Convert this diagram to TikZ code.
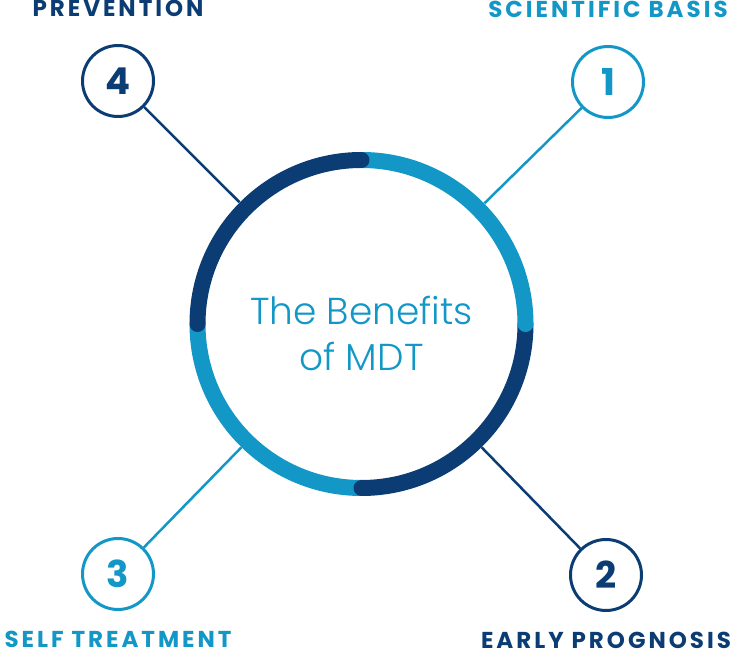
\documentclass[tikz,border=0pt]{standalone}
\usepackage{fontspec}
\usepackage{xcolor}
\usetikzlibrary{positioning}
\setmainfont{Poppins}
\newfontfamily\lightfont{Poppins Light}
\newfontfamily\labelfont{Poppins}[LetterSpace=13]
\definecolor{mdtdark}{HTML}{0B3D74}
\definecolor{mdtlight}{HTML}{1297C6}

\begin{document}
\begin{tikzpicture}[x=1pt,y=1pt,
  numcircle/.style={circle, draw, line width=3pt, minimum size=71pt, inner sep=0pt,
    font=\fontsize{37}{37}\selectfont\bfseries},
  benefit/.style={inner sep=0pt, font=\labelfont\fontsize{23}{23}\selectfont\bfseries},
  spoke/.style={line width=2.5pt},
  segment/.style={line width=16pt, line cap=round}]
\useasboundingbox (0,0) rectangle (732,654);

% Centre
\node[circle, minimum size=344pt, inner sep=0pt] (core) at (361.5,330) {};
\node[align=center, text=mdtlight, font=\lightfont\fontsize{37.5}{46}\selectfont]
  (title) at ([yshift=-9pt]core.center) {The Benefits\\of MDT};

% Numbers
\node[numcircle, draw=mdtlight, text=mdtlight] (n1) at (608,572) {1};
\node[numcircle, draw=mdtdark, text=mdtdark] (n2) at (606,79) {2};
\node[numcircle, draw=mdtlight, text=mdtlight] (n3) at (118,80) {3};
\node[numcircle, draw=mdtdark, text=mdtdark] (n4) at (118,573) {4};

% Labels
\node[benefit, text=mdtlight, above=27pt of n1, anchor=base] (l1) {SCIENTIFIC BASIS};
\node[benefit, text=mdtdark, below=37pt of n2, anchor=base] (l2) {EARLY PROGNOSIS};
\node[benefit, text=mdtlight, below=37pt of n3, anchor=base] (l3) {SELF TREATMENT};
\node[benefit, text=mdtdark, above=27pt of n4, anchor=base] (l4) {PREVENTION};

% Spokes
\draw[spoke, mdtlight] (n1) -- (core);
\draw[spoke, mdtdark] (n2) -- (core);
\draw[spoke, mdtlight] (n3) -- (core);
\draw[spoke, mdtdark] (n4) -- (core);

% Ring
\draw[segment, mdtlight] (core.center) ++(180:164) arc[start angle=180, end angle=270, radius=164pt];
\draw[segment, mdtdark] (core.center) ++(270:164) arc[start angle=270, end angle=360, radius=164pt];
\draw[segment, mdtlight] (core.center) ++(0:164) arc[start angle=0, end angle=90, radius=164pt];
\draw[segment, mdtdark] (core.center) ++(90:164) arc[start angle=90, end angle=180, radius=164pt];

\end{tikzpicture}
\end{document}
